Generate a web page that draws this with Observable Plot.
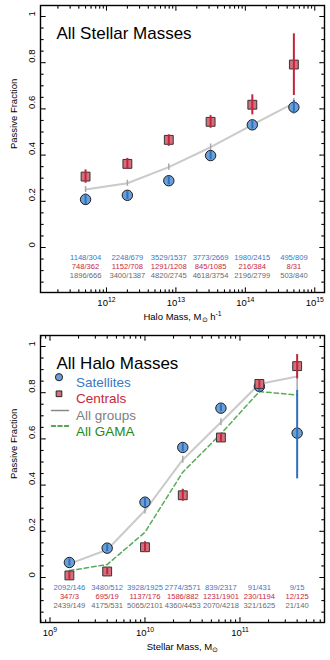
<!DOCTYPE html>
<html>
<head>
<meta charset="utf-8">
<script src="https://cdn.jsdelivr.net/npm/d3@7"></script>
<script src="https://cdn.jsdelivr.net/npm/@observablehq/plot@0.6"></script>
<style>
  html, body { margin: 0; padding: 0; background: #fff; }
  #chart > * { display: block; }
</style>
</head>
<body>
<div id="chart"></div>
<script>
// ---------- Data: top panel (All Stellar Masses, vs halo mass) ----------
const haloMass   = [5.0e11, 2.0e12, 7.9e12, 3.16e13, 1.26e14, 5.0e14];
const satHalo    = [0.208, 0.226, 0.289, 0.398, 0.531, 0.607];
const satHaloLo  = [0.185, 0.208, 0.272, 0.380, 0.513, 0.578];
const satHaloHi  = [0.232, 0.244, 0.306, 0.416, 0.549, 0.636];
const cenHalo    = [0.307, 0.362, 0.466, 0.544, 0.618, 0.792];
const cenHaloLo  = [0.278, 0.338, 0.438, 0.516, 0.574, 0.658];
const cenHaloHi  = [0.336, 0.386, 0.488, 0.571, 0.661, 0.925];
const allHalo    = [0.251, 0.278, 0.348, 0.434, 0.531, 0.625];
const allHaloLo  = [0.238, 0.265, 0.334, 0.420, 0.517, 0.605];
const allHaloHi  = [0.264, 0.291, 0.362, 0.448, 0.545, 0.645];
const satHaloN = ["1148/304", "2248/679", "3529/1537", "3773/2669", "1980/2415", "495/809"];
const cenHaloN = ["748/362", "1152/708", "1291/1208", "845/1085", "216/384", "8/31"];
const allHaloN = ["1896/666", "3400/1387", "4820/2745", "4618/3754", "2196/2799", "503/840"];

// ---------- Data: bottom panel (All Halo Masses, vs stellar mass) ----------
const stellarMass  = [1.6e9, 4.0e9, 1.0e10, 2.5e10, 6.3e10, 1.6e11, 4.0e11];
const satStellar   = [0.065, 0.127, 0.326, 0.563, 0.733, 0.827, 0.625];
const satStellarLo = [0.050, 0.112, 0.305, 0.545, 0.718, 0.800, 0.427];
const satStellarHi = [0.080, 0.142, 0.347, 0.581, 0.748, 0.845, 0.810];
const cenStellar   = [0.009, 0.026, 0.131, 0.356, 0.606, 0.838, 0.915];
const cenStellarLo = [-0.008, 0.012, 0.108, 0.330, 0.588, 0.820, 0.860];
const cenStellarHi = [0.026, 0.040, 0.155, 0.382, 0.624, 0.856, 0.965];
const allStellar   = [0.059, 0.120, 0.290, 0.510, 0.672, 0.838, 0.870];
const allStellarLo = [0.047, 0.108, 0.275, 0.495, 0.657, 0.823, 0.810];
const allStellarHi = [0.071, 0.132, 0.305, 0.525, 0.687, 0.853, 0.900];
const gamaStellar  = [0.030, 0.056, 0.196, 0.456, 0.622, 0.805, 0.790];
const satStellarN = ["2092/146", "3480/512", "3928/1925", "2774/3571", "839/2317", "91/431", "9/15"];
const cenStellarN = ["347/3", "695/19", "1137/176", "1586/882", "1231/1901", "230/1194", "12/125"];
const allStellarN = ["2439/149", "4175/531", "5065/2101", "4360/4453", "2070/4218", "321/1625", "21/140"];

// ---------- Axis tick labels ----------
const yTickLabels = ["0", "0.2", "0.4", "0.6", "0.8", "1"];
const haloExponents = [12, 13, 14, 15];
const stellarExponents = [9, 10, 11];

// ---------- Styling ----------
const FONT = "'Liberation Sans', Arial, Helvetica, sans-serif";
const BLUE_FILL = "#6c9fd6", BLUE = "#2e6fc0", BLUE_TXT = "#3a78c4";
const RED_FILL = "#d3707d", RED = "#c4243a", RED_TXT = "#c8283c";
const GRAY_LINE = "#cacaca", GRAY_ERR = "#a8a8a8", GRAY_TXT = "#6a6a6a";
const GREEN = "#5aaa5a", GREEN_TXT = "#1e8a1e";
const yDomain = [-0.1948, 1.0476];

function logMinor(domain) {
  const lo = Math.floor(Math.log10(domain[0])), hi = Math.ceil(Math.log10(domain[1]));
  const out = [];
  for (let e = lo; e <= hi; e++) for (let k = 2; k <= 9; k++) {
    const v = k * Math.pow(10, e);
    if (v >= domain[0] && v <= domain[1]) out.push(v);
  }
  return out;
}

function tickMarks(xDomain, majorX) {
  const yMajor = yTickLabels.map(Number);
  const yMinor = d3.range(-3, 21).filter(i => i % 4 !== 0).map(i => i * 0.05);
  const xMinor = logMinor(xDomain);
  const common = {anchor: "start", r: 0, stroke: "black", strokeWidth: 1};
  return [
    Plot.vector(yMajor, {...common, y: d => d, frameAnchor: "left", rotate: 90, length: 4.5}),
    Plot.vector(yMinor, {...common, y: d => d, frameAnchor: "left", rotate: 90, length: 2.5}),
    Plot.vector(yMajor, {...common, y: d => d, frameAnchor: "right", rotate: -90, length: 4.5}),
    Plot.vector(yMinor, {...common, y: d => d, frameAnchor: "right", rotate: -90, length: 2.5}),
    Plot.vector(majorX, {...common, x: d => d, frameAnchor: "bottom", rotate: 0, length: 4.5}),
    Plot.vector(xMinor, {...common, x: d => d, frameAnchor: "bottom", rotate: 0, length: 2.5}),
    Plot.vector(majorX, {...common, x: d => d, frameAnchor: "top", rotate: 180, length: 4.5}),
    Plot.vector(xMinor, {...common, x: d => d, frameAnchor: "top", rotate: 180, length: 2.5}),
    Plot.text(yTickLabels, {y: d => Number(d), text: d => d, frameAnchor: "left", dx: -9, rotate: -90, fontSize: 9.5, fill: "black"})
  ];
}

function panel({title, xDomain, exps, xLabel, rows, legend}) {
  const majorX = exps.map(e => Math.pow(10, e));
  const marks = [
    ...tickMarks(xDomain, majorX),
    Plot.text(exps, {x: e => Math.pow(10, e), text: e => "10^{" + e + "}", frameAnchor: "bottom", dy: 13, fontSize: 9.5, fill: "black"}),
    Plot.text([xLabel], {text: d => d, frameAnchor: "bottom", dy: 27, fontSize: 9.5, fill: "black"}),
    Plot.text(["Passive Fraction"], {text: d => d, frameAnchor: "left", dx: -27, rotate: -90, fontSize: 9.5, fill: "black"}),
    Plot.text([title], {text: d => d, frameAnchor: "top-left", dx: 16, dy: 21, fontSize: 17, textAnchor: "start", fill: "black"}),
    // group lines
    Plot.line(rows, {x: "m", y: "all", stroke: GRAY_LINE, strokeWidth: 2}),
    Plot.ruleX(rows, {x: "m", y1: "allLo", y2: "allHi", stroke: GRAY_ERR, strokeWidth: 1.5}),
  ];
  if (rows[0].gama !== undefined) {
    marks.push(Plot.line(rows, {x: "m", y: "gama", stroke: GREEN, strokeWidth: 1.5, strokeDasharray: "4.5,3"}));
  }
  marks.push(
    Plot.dot(rows, {x: "m", y: "sat", r: 5.2, fill: BLUE_FILL, stroke: "#1a1a1a", strokeWidth: 1}),
    Plot.ruleX(rows, {x: "m", y1: "satLo", y2: "satHi", stroke: BLUE, strokeWidth: 2}),
    Plot.dot(rows, {x: "m", y: "cen", symbol: "square", r: 5, fill: RED_FILL, stroke: "#333", strokeWidth: 1}),
    Plot.ruleX(rows, {x: "m", y1: "cenLo", y2: "cenHi", stroke: RED, strokeWidth: 2}),
    Plot.text(rows, {x: "m", text: "satN", frameAnchor: "bottom", dy: -33, fontSize: 7.6, fill: BLUE_TXT}),
    Plot.text(rows, {x: "m", text: "cenN", frameAnchor: "bottom", dy: -23.8, fontSize: 7.6, fill: RED_TXT}),
    Plot.text(rows, {x: "m", text: "allN", frameAnchor: "bottom", dy: -14.8, fontSize: 7.6, fill: GRAY_TXT})
  );
  if (legend) {
    const tx = 35.5;
    marks.push(
      Plot.dot([0], {frameAnchor: "top-left", dx: 18.5, dy: 41.7, r: 3.6, fill: BLUE_FILL, stroke: "#222", strokeWidth: 1}),
      Plot.text(["Satellites"], {text: d => d, frameAnchor: "top-left", dx: tx, dy: 41.7, textAnchor: "start", fontSize: 13.5, fill: BLUE_TXT}),
      Plot.dot([0], {frameAnchor: "top-left", dx: 18.5, dy: 58.3, r: 3.2, symbol: "square", fill: RED_FILL, stroke: "#222", strokeWidth: 1}),
      Plot.text(["Centrals"], {text: d => d, frameAnchor: "top-left", dx: tx, dy: 58.3, textAnchor: "start", fontSize: 13.5, fill: RED_TXT}),
      Plot.vector([0], {frameAnchor: "top-left", dx: 11, dy: 75, rotate: 90, length: 17, anchor: "start", r: 0, stroke: "#888", strokeWidth: 1.5}),
      Plot.text(["All groups"], {text: d => d, frameAnchor: "top-left", dx: tx, dy: 75, textAnchor: "start", fontSize: 13.5, fill: "#808080"}),
      Plot.vector([0], {frameAnchor: "top-left", dx: 11, dy: 90.5, rotate: 90, length: 17, anchor: "start", r: 0, stroke: "#1e8a1e", strokeWidth: 1.5, strokeDasharray: "4,2.5"}),
      Plot.text(["All GAMA"], {text: d => d, frameAnchor: "top-left", dx: tx, dy: 90.5, textAnchor: "start", fontSize: 13.5, fill: GREEN_TXT})
    );
  }
  marks.push(Plot.frame({stroke: "black", strokeWidth: 1.4}));
  const svg = Plot.plot({
    width: 330, height: 330,
    marginTop: 5, marginRight: 6, marginBottom: 38, marginLeft: 40,
    style: {fontFamily: FONT, background: "white", overflow: "visible"},
    x: {type: "log", domain: xDomain, axis: null},
    y: {domain: yDomain, axis: null},
    marks
  });
  richify(svg);
  return svg;
}

// turn "^{..}" / "_{..}" markers into super/subscript tspans
function richify(svg) {
  const ns = "http://www.w3.org/2000/svg";
  svg.querySelectorAll("text").forEach(t => {
    const s = t.textContent;
    if (!/[\^_]\{/.test(s)) return;
    t.textContent = "";
    const re = /([\^_])\{([^}]*)\}|([^\^_]+)/g;
    let m, off = 0;
    while ((m = re.exec(s))) {
      const ts = document.createElementNS(ns, "tspan");
      let target = 0;
      if (m[1] === "^") { target = -4; ts.setAttribute("font-size", "72%"); ts.textContent = m[2]; }
      else if (m[1] === "_") { target = 2.5; ts.setAttribute("font-size", "72%"); ts.textContent = m[2]; }
      else { ts.textContent = m[3]; }
      if (target - off !== 0) ts.setAttribute("dy", target - off);
      off = target;
      t.appendChild(ts);
    }
  });
}

const haloRows = haloMass.map((m, i) => ({
  m, sat: satHalo[i], satLo: satHaloLo[i], satHi: satHaloHi[i],
  cen: cenHalo[i], cenLo: cenHaloLo[i], cenHi: cenHaloHi[i],
  all: allHalo[i], allLo: allHaloLo[i], allHi: allHaloHi[i],
  satN: satHaloN[i], cenN: cenHaloN[i], allN: allHaloN[i]
}));
const stellarRows = stellarMass.map((m, i) => ({
  m, sat: satStellar[i], satLo: satStellarLo[i], satHi: satStellarHi[i],
  cen: cenStellar[i], cenLo: cenStellarLo[i], cenHi: cenStellarHi[i],
  all: allStellar[i], allLo: allStellarLo[i], allHi: allStellarHi[i],
  gama: gamaStellar[i],
  satN: satStellarN[i], cenN: cenStellarN[i], allN: allStellarN[i]
}));

const chart = document.getElementById("chart");
chart.append(panel({
  title: "All Stellar Masses",
  xDomain: [Math.pow(10, 11.05), Math.pow(10, 15.14)],
  exps: haloExponents,
  xLabel: "Halo Mass, M_{\u2299} h^{-1}",
  rows: haloRows,
  legend: false
}));
chart.append(panel({
  title: "All Halo Masses",
  xDomain: [Math.pow(10, 8.90), Math.pow(10, 11.89)],
  exps: stellarExponents,
  xLabel: "Stellar Mass, M_{\u2299}",
  rows: stellarRows,
  legend: true
}));
</script>
</body>
</html>
